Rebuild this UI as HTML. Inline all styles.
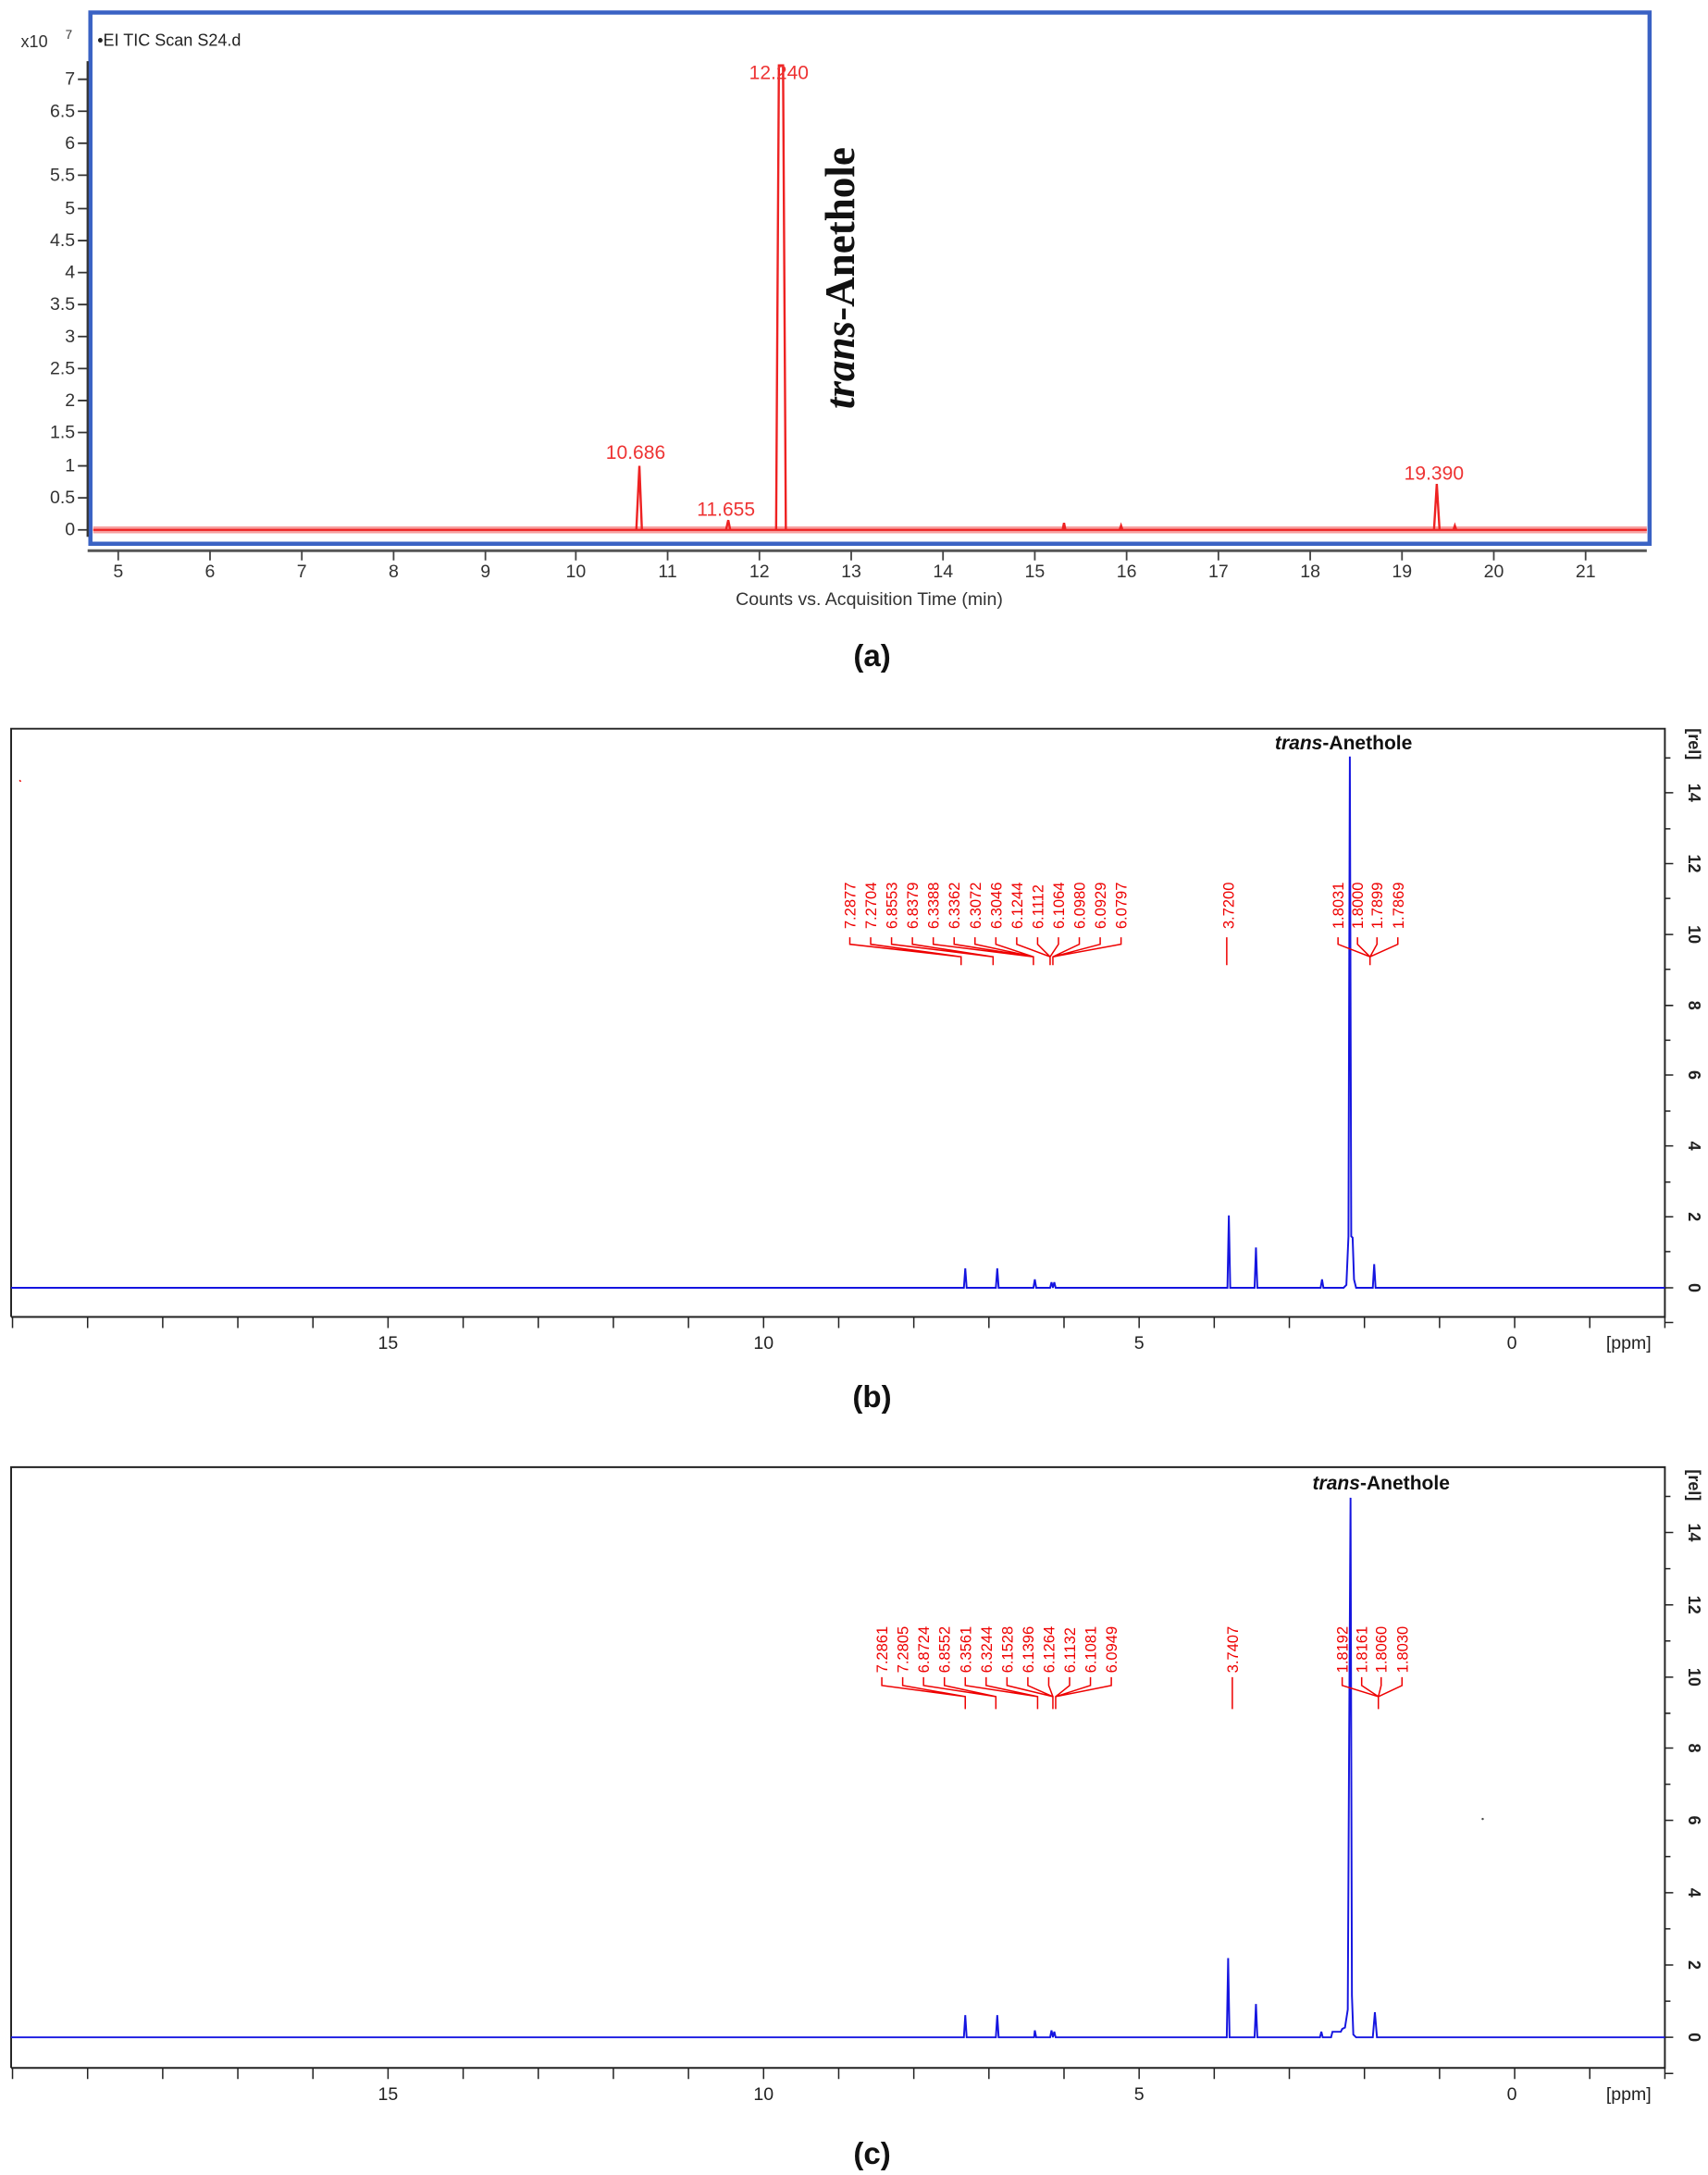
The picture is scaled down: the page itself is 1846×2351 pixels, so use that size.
<!DOCTYPE html>
<html><head><meta charset="utf-8"><style>html,body{margin:0;padding:0;background:#fff}svg{display:block}</style></head>
<body>
<svg xmlns="http://www.w3.org/2000/svg" width="1846" height="2351" viewBox="0 0 1228 1564" preserveAspectRatio="none" font-family="Liberation Sans, sans-serif">
<rect width="1228" height="1564" fill="#fff"/>
<!-- Panel a -->
<rect x="65" y="9" width="1121" height="382" fill="none" stroke="#3a62c4" stroke-width="3"/>
<line x1="63" y1="44" x2="63" y2="386" stroke="#333" stroke-width="1.5"/>
<g fill="#333" font-size="13" text-anchor="end">
<text x="54" y="61">7</text><text x="54" y="84">6.5</text><text x="54" y="107">6</text><text x="54" y="130">5.5</text><text x="54" y="154">5</text><text x="54" y="177">4.5</text><text x="54" y="200">4</text><text x="54" y="223">3.5</text><text x="54" y="246">3</text><text x="54" y="269">2.5</text><text x="54" y="292">2</text><text x="54" y="315">1.5</text><text x="54" y="339">1</text><text x="54" y="362">0.5</text><text x="54" y="385">0</text>
</g>
<g stroke="#333" stroke-width="1.2">
<path d="M56 57H63M56 80H63M56 103H63M56 126H63M56 150H63M56 173H63M56 196H63M56 219H63M56 242H63M56 265H63M56 288H63M56 311H63M56 335H63M56 358H63M56 381H63"/>
</g>
<text x="15" y="34" font-size="12" fill="#333">x10</text><text x="47" y="28" font-size="9" fill="#333">7</text>
<text x="70" y="33" font-size="12" fill="#222">•EI TIC Scan S24.d</text>
<line x1="67" y1="381" x2="1184" y2="381" stroke="#f7a0a0" stroke-width="5"/>
<line x1="67" y1="381" x2="1184" y2="381" stroke="#e22" stroke-width="1.5"/>
<g fill="none" stroke="#e22" stroke-width="1.6">
<path d="M457.5 381L459.7 335L461.5 381"/>
<path d="M522 381L523.6 374L525 381"/>
<path d="M558 381L560 47L563 47L565 381"/>
<path d="M1031 381L1033 348L1035 381"/>
<path d="M764 381L765 376L766 381M805 381L806 378L807 381M1045 381L1046 378L1047 381"/>
</g>
<g fill="#e33" font-size="14" text-anchor="middle">
<text x="560" y="57">12.240</text><text x="457" y="330">10.686</text><text x="522" y="371">11.655</text><text x="1031" y="345">19.390</text>
</g>
<text transform="translate(614,200) rotate(-90)" text-anchor="middle" font-family="Liberation Serif, serif" font-weight="bold" font-size="30" fill="#111"><tspan font-style="italic">trans</tspan>-Anethole</text>
<line x1="63" y1="396" x2="1184" y2="396" stroke="#555" stroke-width="2"/>
<g stroke="#444" stroke-width="1.2"><path d="M85 396V403M151 396V403M217 396V403M283 396V403M349 396V403M414 396V403M480 396V403M546 396V403M612 396V403M678 396V403M744 396V403M810 396V403M876 396V403M942 396V403M1008 396V403M1074 396V403M1140 396V403"/></g>
<g fill="#333" font-size="13" text-anchor="middle">
<text x="85" y="415">5</text><text x="151" y="415">6</text><text x="217" y="415">7</text><text x="283" y="415">8</text><text x="349" y="415">9</text><text x="414" y="415">10</text><text x="480" y="415">11</text><text x="546" y="415">12</text><text x="612" y="415">13</text><text x="678" y="415">14</text><text x="744" y="415">15</text><text x="810" y="415">16</text><text x="876" y="415">17</text><text x="942" y="415">18</text><text x="1008" y="415">19</text><text x="1074" y="415">20</text><text x="1140" y="415">21</text>
</g>
<text x="625" y="435" font-size="13" fill="#333" text-anchor="middle">Counts vs. Acquisition Time (min)</text>
<text x="627" y="479" font-size="22" font-weight="bold" text-anchor="middle" fill="#111">(a)</text>

<!-- Panel b -->
<g>
<path d="M8 947V524H1197V947H8" fill="none" stroke="#222" stroke-width="1.3"/>
<g stroke="#222" stroke-width="1"><path d="M9 947v8M63 947v8M117 947v8M171 947v8M225 947v8M279 947v8M333 947v8M387 947v8M441 947v8M495 947v8M549 947v8M603 947v8M657 947v8M711 947v8M765 947v8M819 947v8M873 947v8M927 947v8M981 947v8M1035 947v8M1089 947v8M1143 947v8M1197 947v8"/>
<path d="M1197 951h6M1197 926h6M1197 900h4M1197 875h6M1197 850h4M1197 824h6M1197 799h4M1197 773h6M1197 748h4M1197 723h6M1197 697h4M1197 672h6M1197 646h4M1197 621h6M1197 596h4M1197 570h6M1197 545h4"/></g>
<g font-size="12" font-weight="bold" fill="#222" text-anchor="middle">
<text transform="translate(1214,926) rotate(90)">0</text><text transform="translate(1214,875) rotate(90)">2</text><text transform="translate(1214,824) rotate(90)">4</text><text transform="translate(1214,773) rotate(90)">6</text><text transform="translate(1214,723) rotate(90)">8</text><text transform="translate(1214,672) rotate(90)">10</text><text transform="translate(1214,621) rotate(90)">12</text><text transform="translate(1214,570) rotate(90)">14</text><text transform="translate(1214,535) rotate(90)">[rel]</text>
</g>
<g font-size="13" fill="#222" text-anchor="middle"><text x="279" y="970">15</text><text x="549" y="970">10</text><text x="819" y="970">5</text><text x="1087" y="970">0</text><text x="1171" y="970">[ppm]</text></g>
<text x="627" y="1012" font-size="22" font-weight="bold" text-anchor="middle" fill="#111">(b)</text>
<text x="966" y="539" font-size="14" font-weight="bold" text-anchor="middle" fill="#111"><tspan font-style="italic">trans</tspan>-Anethole</text>
<path d="M8 926H693L694 912L695 926H716L717 912L718 926H743L744 920L745 926H755L756 922L757 926L758 922L759 926H882.5L883.5 874L884.5 926H902L903 897L904 926H949.5L950.5 920L951.5 926H966L968 924L969.5 889L970.5 544L971.5 889L972.5 890L973.5 920L975 926H987L988 909L989 926H1197" fill="none" stroke="#1515e0" stroke-width="1.3"/>
<g font-size="11" fill="#e00" text-anchor="start">
<text transform="translate(615,668) rotate(-90)">7.2877</text><text transform="translate(630,668) rotate(-90)">7.2704</text><text transform="translate(645,668) rotate(-90)">6.8553</text><text transform="translate(660,668) rotate(-90)">6.8379</text><text transform="translate(675,668) rotate(-90)">6.3388</text><text transform="translate(690,668) rotate(-90)">6.3362</text><text transform="translate(705,668) rotate(-90)">6.3072</text><text transform="translate(720,668) rotate(-90)">6.3046</text><text transform="translate(735,668) rotate(-90)">6.1244</text><text transform="translate(750,668) rotate(-90)">6.1112</text><text transform="translate(765,668) rotate(-90)">6.1064</text><text transform="translate(780,668) rotate(-90)">6.0980</text><text transform="translate(795,668) rotate(-90)">6.0929</text><text transform="translate(810,668) rotate(-90)">6.0797</text>
<text transform="translate(887,668) rotate(-90)">3.7200</text>
<text transform="translate(966,668) rotate(-90)">1.8031</text><text transform="translate(980,668) rotate(-90)">1.8000</text><text transform="translate(994,668) rotate(-90)">1.7899</text><text transform="translate(1009,668) rotate(-90)">1.7869</text>
</g>
<g fill="none" stroke="#e00" stroke-width="1"><path d="M611 674v5L691 688v6M626 674v5L691 688M641 674v5L714 688v6M656 674v5L714 688M671 674v5L743 688v6M686 674v5L743 688M701 674v5L743 688M716 674v5L743 688M731 674v5L755 688v6M746 674v5L755 688M761 674v5L755 688M776 674v5L757 688v6M791 674v5L757 688M806 674v5L757 688M882 674v20M962 674v5L985 688v6M976 674v5L985 688M990 674v5L985 688M1005 674v5L985 688"/></g>
</g>

<!-- Panel c -->
<g>
<path d="M8 1487V1055H1197V1487H8" fill="none" stroke="#222" stroke-width="1.3"/>
<g stroke="#222" stroke-width="1"><path d="M9 1487v8M63 1487v8M117 1487v8M171 1487v8M225 1487v8M279 1487v8M333 1487v8M387 1487v8M441 1487v8M495 1487v8M549 1487v8M603 1487v8M657 1487v8M711 1487v8M765 1487v8M819 1487v8M873 1487v8M927 1487v8M981 1487v8M1035 1487v8M1089 1487v8M1143 1487v8M1197 1487v8"/>
<path d="M1197 1491h6M1197 1465h6M1197 1439h4M1197 1413h6M1197 1387h4M1197 1361h6M1197 1335h4M1197 1309h6M1197 1283h4M1197 1257h6M1197 1232h4M1197 1206h6M1197 1180h4M1197 1154h6M1197 1128h4M1197 1102h6M1197 1076h4"/></g>
<g font-size="12" font-weight="bold" fill="#222" text-anchor="middle">
<text transform="translate(1214,1465) rotate(90)">0</text><text transform="translate(1214,1413) rotate(90)">2</text><text transform="translate(1214,1361) rotate(90)">4</text><text transform="translate(1214,1309) rotate(90)">6</text><text transform="translate(1214,1257) rotate(90)">8</text><text transform="translate(1214,1206) rotate(90)">10</text><text transform="translate(1214,1154) rotate(90)">12</text><text transform="translate(1214,1102) rotate(90)">14</text><text transform="translate(1214,1068) rotate(90)">[rel]</text>
</g>
<g font-size="13" fill="#222" text-anchor="middle"><text x="279" y="1510">15</text><text x="549" y="1510">10</text><text x="819" y="1510">5</text><text x="1087" y="1510">0</text><text x="1171" y="1510">[ppm]</text></g>
<text x="627" y="1556" font-size="22" font-weight="bold" text-anchor="middle" fill="#111">(c)</text>
<text x="993" y="1071" font-size="14" font-weight="bold" text-anchor="middle" fill="#111"><tspan font-style="italic">trans</tspan>-Anethole</text>
<path d="M8 1465H693L694 1449L695 1465H716L717 1449L718 1465H743.5L744 1460L745 1465H755L756 1460L757 1465L758 1461L759 1465H882L883 1408L884 1465H902L903 1441L904 1465H949L950 1461L951 1465H957L958 1461H964L965 1459L967 1458L969 1445L970 1250L971 1077L972 1435L973 1463L975 1465H987L988.5 1447L990 1465H1197" fill="none" stroke="#1515e0" stroke-width="1.3"/>
<circle cx="1066" cy="1308" r="0.8" fill="#444"/>
<g font-size="11" fill="#e00" text-anchor="start">
<text transform="translate(638,1203) rotate(-90)">7.2861</text><text transform="translate(653,1203) rotate(-90)">7.2805</text><text transform="translate(668,1203) rotate(-90)">6.8724</text><text transform="translate(683,1203) rotate(-90)">6.8552</text><text transform="translate(698,1203) rotate(-90)">6.3561</text><text transform="translate(713,1203) rotate(-90)">6.3244</text><text transform="translate(728,1203) rotate(-90)">6.1528</text><text transform="translate(743,1203) rotate(-90)">6.1396</text><text transform="translate(758,1203) rotate(-90)">6.1264</text><text transform="translate(773,1203) rotate(-90)">6.1132</text><text transform="translate(788,1203) rotate(-90)">6.1081</text><text transform="translate(803,1203) rotate(-90)">6.0949</text>
<text transform="translate(890,1203) rotate(-90)">3.7407</text>
<text transform="translate(969,1203) rotate(-90)">1.8192</text><text transform="translate(983,1203) rotate(-90)">1.8161</text><text transform="translate(997,1203) rotate(-90)">1.8060</text><text transform="translate(1012,1203) rotate(-90)">1.8030</text>
</g>
<g fill="none" stroke="#e00" stroke-width="1"><path d="M634 1206v6L694 1220v9M649 1206v6L694 1220M664 1206v6L716 1220v9M679 1206v6L716 1220M694 1206v6L746 1220v9M709 1206v6L746 1220M724 1206v6L757 1220v9M739 1206v6L757 1220M754 1206v6L757 1220M769 1206v6L759 1220v9M784 1206v6L759 1220M799 1206v6L759 1220M886 1206v23M965 1206v6L991 1220v9M979 1206v6L991 1220M993 1206v6L991 1220M1008 1206v6L991 1220"/></g>
</g>
<path d="M14 561l1 1" stroke="#e00" stroke-width="1"/>
</svg>
</body></html>
